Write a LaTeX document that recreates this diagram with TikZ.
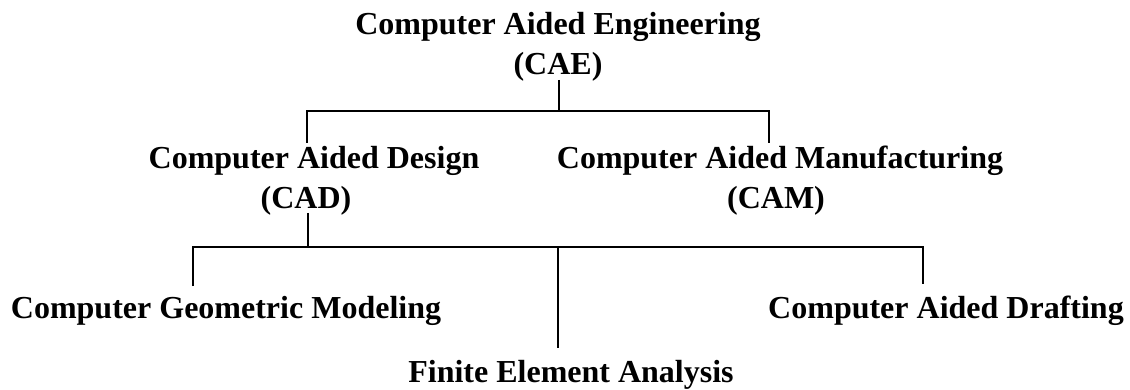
\documentclass[tikz,border=0pt]{standalone}
\usepackage{fontspec}
\setmainfont{Liberation Serif}
\begin{document}
\begin{tikzpicture}[x=1pt,y=-1pt,
  lbl/.style={font=\bfseries\fontsize{32}{40}\selectfont, inner sep=0pt, anchor=base},
  conn/.style={line width=1.6pt, line cap=butt}]
\useasboundingbox (0,0) rectangle (1130,390);
% texts
\node[lbl] (cae) at (558,35) {Computer Aided Engineering};
\node[lbl] (caeab) at (558,75) {(CAE)};
\node[lbl] (cad) at (314,169) {Computer Aided Design};
\node[lbl] (cadab) at (306,209) {(CAD)};
\node[lbl] (cam) at (780,169) {Computer Aided Manufacturing};
\node[lbl] (camab) at (776,209) {(CAM)};
\node[lbl] (cgm) at (226,318) {Computer Geometric Modeling};
\node[lbl] (cadr) at (946,318) {Computer Aided Drafting};
\node[lbl] (fea) at (571,382) {Finite Element Analysis};
% junction coordinates
\coordinate (t0) at (559,80);
\coordinate (t1) at (559,111);
\coordinate (tl) at (307,111);
\coordinate (tr) at (769,111);
\coordinate (tlb) at (307,143);
\coordinate (trb) at (769,143);
\coordinate (m0) at (308,213);
\coordinate (m1) at (308,247);
\coordinate (ml) at (193,247);
\coordinate (mr) at (923,247);
\coordinate (mc) at (558,247);
\coordinate (mlb) at (193,286);
\coordinate (mrb) at (923,284);
\coordinate (mcb) at (558,348);
% connectors
\draw[conn] (t0) -- (t1);
\draw[conn] (tlb) -- (tl) -- (tr) -- (trb);
\draw[conn] (m0) -- (m1);
\draw[conn] (mlb) -- (ml) -- (mr) -- (mrb);
\draw[conn] (mc) -- (mcb);
\end{tikzpicture}
\end{document}
